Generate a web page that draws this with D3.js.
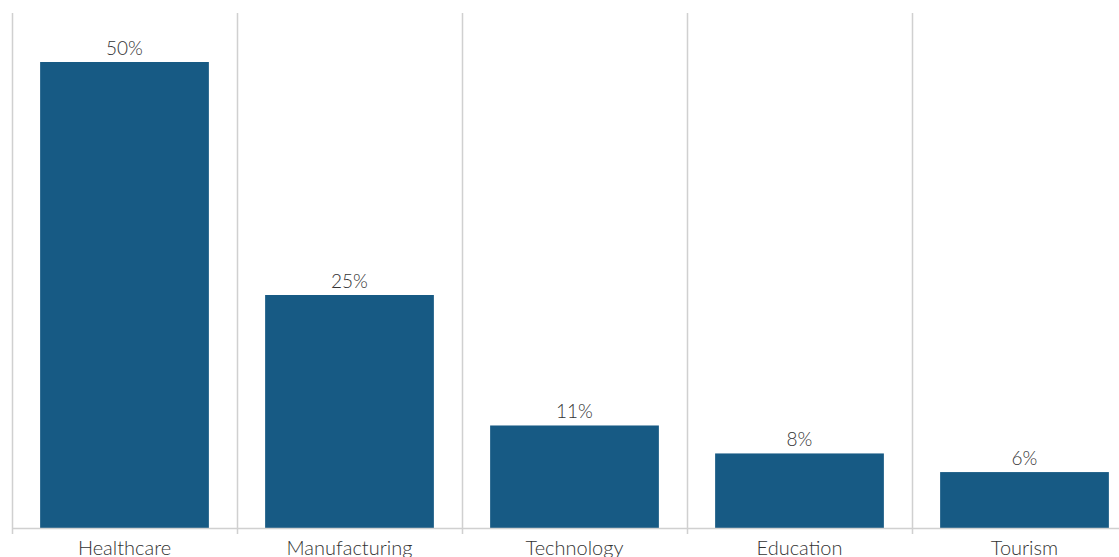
<!DOCTYPE html>
<html>
<head>
<meta charset="utf-8">
<script src="https://cdn.jsdelivr.net/npm/d3@7"></script>
<style>
  html, body { margin: 0; padding: 0; background: #fff; }
  svg { display: block; }
  text { font-family: Lato, "Open Sans", sans-serif; font-weight: 300; }
</style>
</head>
<body>
<svg id="chart" width="1119" height="557"></svg>
<script>
const categories = ["Healthcare", "Manufacturing", "Technology", "Education", "Tourism"];
const values = [50, 25, 11, 8, 6];
const valueLabels = ["50%", "25%", "11%", "8%", "6%"];

(function () {
const svg = d3.select("#chart");
const mLeft = 12, mRight = 1137, mTop = 13, mBottom = 528;

const x = d3.scaleBand().domain(categories).range([mLeft, mRight])
  .paddingInner(0.25).paddingOuter(0.125);
const y = d3.scaleLinear().domain([0, 50]).range([mBottom, 62]);

// vertical separators
const seps = [mLeft].concat(categories.slice(1).map(c => x(c) - x.step() * x.paddingInner() / 2));
svg.append("g").selectAll("line").data(seps).join("line")
  .attr("x1", d => Math.round(d) + 0.5).attr("x2", d => Math.round(d) + 0.5)
  .attr("y1", mTop).attr("y2", mBottom + 6)
  .attr("stroke", "#d0d0d0").attr("stroke-width", 1.5);

// bars
svg.append("g").selectAll("rect").data(values).join("rect")
  .attr("x", (d, i) => x(categories[i]))
  .attr("width", x.bandwidth())
  .attr("y", d => y(d))
  .attr("height", d => y(0) - y(d))
  .attr("fill", "#175a84");

// baseline axis
svg.append("line").attr("x1", mLeft).attr("x2", mRight)
  .attr("y1", mBottom + 0.5).attr("y2", mBottom + 0.5)
  .attr("stroke", "#d0d0d0").attr("stroke-width", 1.5);

// value labels
svg.append("g").selectAll("text").data(values).join("text")
  .attr("x", (d, i) => x(categories[i]) + x.bandwidth() / 2)
  .attr("y", d => y(d) - 7)
  .attr("text-anchor", "middle")
  .attr("font-size", 19)
  .attr("fill", "#333")
  .text((d, i) => valueLabels[i]);

// category labels
svg.append("g").selectAll("text").data(categories).join("text")
  .attr("x", d => x(d) + x.bandwidth() / 2)
  .attr("y", 555)
  .attr("text-anchor", "middle")
  .attr("font-size", 20)
  .attr("fill", "#333")
  .text(d => d);
})();
</script>
</body>
</html>
